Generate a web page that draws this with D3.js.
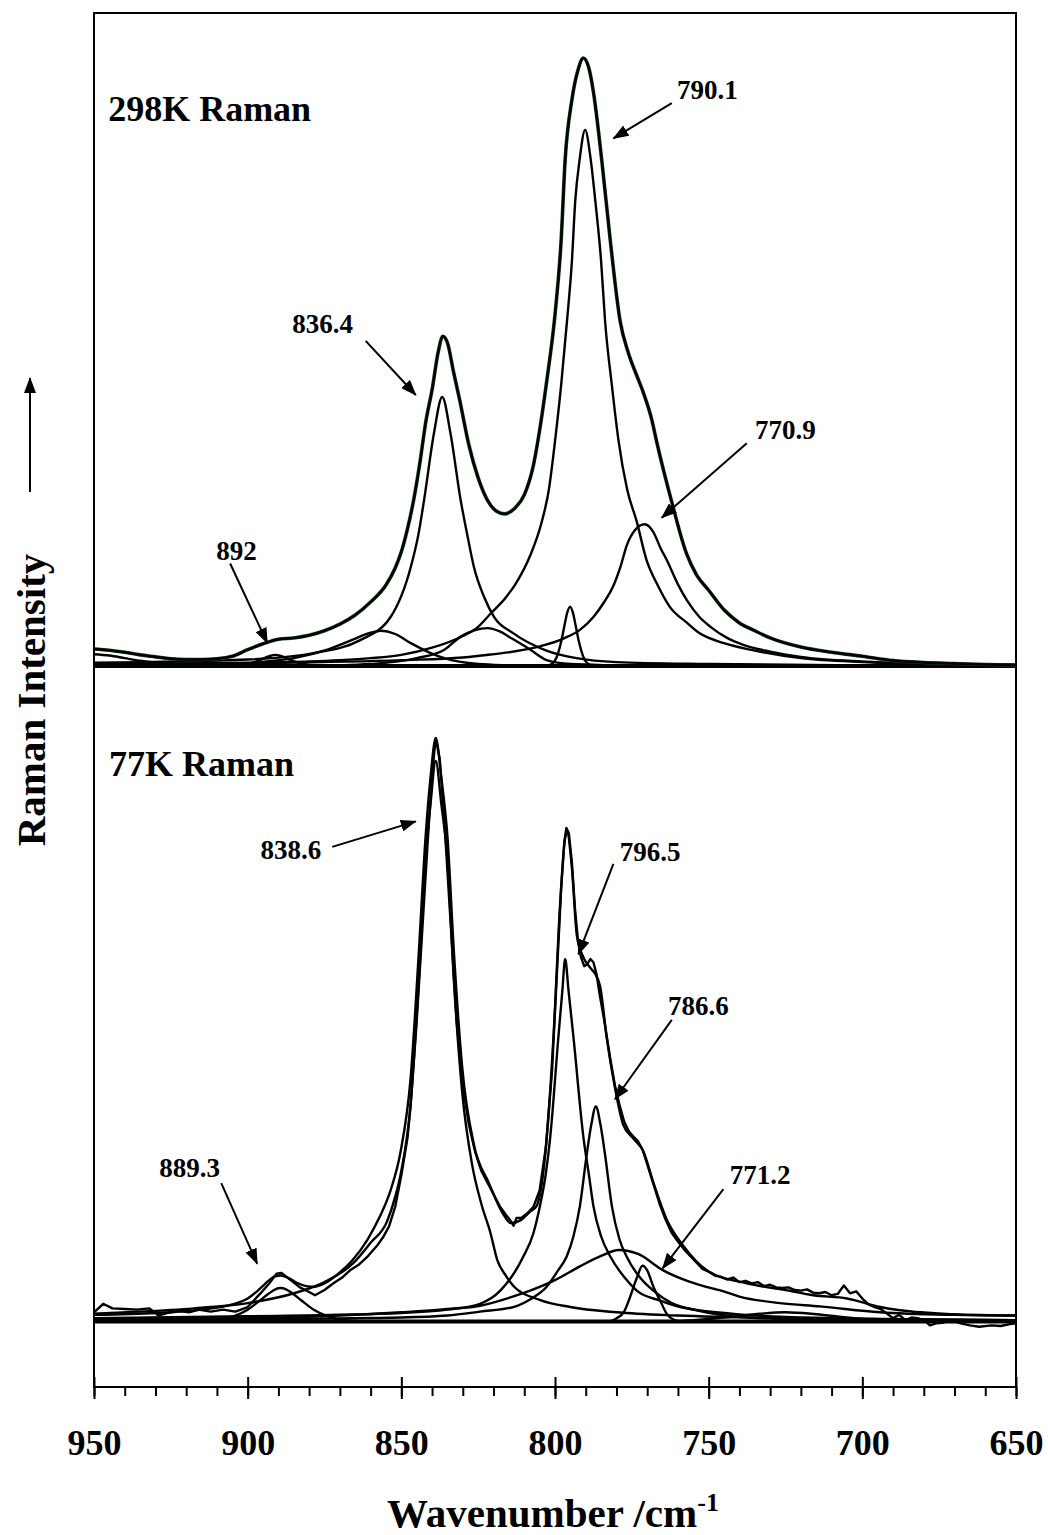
<!DOCTYPE html>
<html>
<head>
<meta charset="utf-8">
<script src="https://cdn.jsdelivr.net/npm/d3@7"></script>
<style>
  body { margin: 0; background: #fff; }
  text { font-family: 'Liberation Serif', 'Times New Roman', serif; font-weight: bold; fill: #000; }
</style>
</head>
<body>
<svg id="chart"></svg>
<script>
// wavenumber axis (cm-1), drawn high -> low
const wnDomain = [950, 650];
const majorTicks = [950, 900, 850, 800, 750, 700, 650];
const minorTicks = d3.range(950, 649, -10);

// ---- 298K panel: [wavenumber, intensity] ----
const top_fit = [[950,2.6],[945,2.4],[940,2.1],[935,1.7],[930,1.4],[925,1.1],[920,1.0],[915,1.0],[910,1.1],[905,1.5],[900,2.5],[895,3.4],[890,4.1],[885,4.3],[880,4.7],[875,5.4],[870,6.4],[865,7.8],[860,9.8],[855,12.4],[852,15.0],[850,17.5],[848,21.0],[846,25.4],[844,31.0],[842,37.5],[840,42.3],[838,48.1],[836.5,50.5],[835,49.5],[833,45.0],[831,40.7],[828,33.8],[825,28.8],[822,25.4],[819,23.7],[816.5,23.3],[813,24.2],[810,26.2],[807,30.8],[805,36.1],[802.7,43.6],[800,53.8],[798,65.2],[796.7,77.5],[794.5,86.7],[792.5,91.3],[790.8,93.1],[789,91.6],[787.5,87.9],[784.8,77.5],[782,65.1],[778.8,52.8],[776.1,47.9],[773.5,44.6],[771.2,41.8],[768.5,37.7],[766.9,34.3],[762,25.1],[757.2,17.2],[754,14.0],[750,11.6],[745,8.6],[740,6.6],[735,5.4],[730,4.3],[720,2.9],[710,2.1],[700,1.5],[690,0.84],[680,0.54],[670,0.38],[660,0.23],[650,0.15]];
const top_c790 = [[950,0.25],[920,0.4],[900,0.5],[880,0.7],[870,0.9],[860,1.2],[850,1.7],[840,2.8],[830,4.6],[825,6.0],[821,8.0],[816,10.5],[812.4,12.9],[808,17.0],[804.3,22.1],[802,27.0],[800,34.4],[798,43.0],[796.1,52.8],[794.5,62.0],[793.4,71.3],[792,77.5],[790.2,82.1],[788.5,78.0],[786.9,71.3],[785,62.0],[783.7,52.8],[781.5,43.0],[779.3,34.4],[776.5,27.0],[773.4,22.1],[770.2,16.2],[766.5,12.3],[762.7,9.1],[757,6.6],[752.9,5.0],[745,3.5],[736.5,2.5],[720,1.2],[700,0.6],[687.7,0.4],[650,0.15]];
const top_c836 = [[950,0.5],[900,1.0],[879.5,1.9],[863.2,4.0],[853.5,7.5],[846.9,15.2],[844.5,20.0],[842.6,25.4],[839.4,35.6],[836.7,41.2],[834,35.6],[830.7,25.4],[828.5,20.0],[826.4,15.2],[823,10.5],[819.8,7.5],[813.5,5.0],[803,2.4],[793,1.2],[780,0.6],[750,0.3],[700,0.1],[650,0.05]];
const top_c771 = [[950,0.15],[900,0.4],[850,0.9],[830,1.3],[824,1.6],[813.6,2.2],[805,3.0],[797.3,4.2],[792,5.5],[787.5,7.5],[784,9.8],[781,12.3],[778.5,15.5],[776.7,18.4],[774,20.8],[770.8,21.7],[768,20.5],[765.6,18.0],[763.6,16.2],[760,12.5],[757,10.0],[753,7.5],[749.4,6.0],[744,4.3],[738.5,3.2],[730,2.2],[720,1.4],[700,0.7],[680,0.4],[650,0.2]];
const top_c795 = [[803,0],[801,0.3],[799.5,1.3],[798,3.7],[797,6.0],[796,8.2],[795.1,9.1],[794.2,8.2],[793.2,6.0],[792.2,3.7],[790.7,1.3],[789.2,0.3],[787.5,0]];
const top_c822 = [[870,0.1],[860,0.3],[845,1.2],[836,2.5],[830.7,4.5],[826,5.5],[822,5.8],[818,5.3],[814,4.2],[808,2.5],[802.7,0.9],[795,0.3],[780,0.1],[770,0]];
const top_c857 = [[915,0],[905,0.2],[895.7,0.6],[884.9,1.2],[874.1,2.5],[866,4.0],[860,5.1],[856.7,5.4],[852,4.9],[846.9,3.5],[841,2.1],[836,1.2],[825,0.3],[815,0.1],[805,0]];
const top_c892 = [[906,0],[900,0.3],[896,0.9],[893,1.5],[891,1.7],[889,1.5],[886,0.9],[882,0.3],[876,0]];
const top_c950 = [[950,1.8],[945,1.6],[940,1.2],[935,0.8],[930,0.5],[920,0.2],[910,0.05],[900,0]];

// ---- 77K panel ----
const bot_obs = [[950,1.4],[947,2.7],[944,2.0],[940,1.9],[936,1.8],[932,2.0],[929,0.9],[926,1.3],[922,1.6],[919,1.4],[916,1.8],[912,1.5],[908,1.8],[904,1.5],[900,2.2],[896,4.2],[893,5.8],[890.6,7.3],[889,7.4],[886,6.3],[883,5.2],[880,4.5],[878.1,4.0],[875,4.8],[872.2,5.8],[869,6.8],[866.7,7.8],[864,8.6],[861.2,9.8],[858,11.5],[856,12.8],[854,14.5],[852,17.5],[850,22.3],[848,28.0],[847,32.9],[845,45.8],[843,61.1],[841,76.4],[839.5,85.8],[838.8,89.0],[837.5,85.8],[836,76.4],[834,61.1],[832,45.8],[830,35.8],[828,30.0],[826,25.9],[824,23.0],[822,21.2],[820,19.4],[818,17.6],[816,16.3],[814.5,15.4],[813.5,14.6],[812.5,15.8],[811,15.8],[809,16.5],[807,17.5],[805,20.0],[803,26.5],[801,38.0],[799.5,52.0],[798,66.0],[797,73.0],[796.3,75.3],[795.5,74.5],[794.5,70.0],[793.5,63.0],[792.5,58.0],[791.5,55.5],[790.5,54.2],[789.5,54.5],[788.5,55.3],[787.5,54.8],[786.5,53.0],[785.5,50.0],[784,46.0],[782,40.0],[780.5,36.0],[779,33.0],[777.5,30.5],[776,29.0],[774.5,28.2],[773,27.5],[771.5,26.2],[770,24.0],[768,21.0],[766,18.0],[764,15.5],[762,13.5],[760,12.2],[758,11.0],[756,10.0],[754,9.0],[752,8.0],[750,7.6],[748,7.0],[746,6.8],[744,6.4],[742,6.7],[740,6.0],[738,6.2],[736,5.8],[734,6.0],[732,5.4],[730,5.6],[728,5.2],[726,5.1],[724,5.2],[722,4.8],[720,4.7],[718,4.9],[716,4.4],[714,4.3],[712,4.5],[710,4.0],[708,4.2],[706,5.5],[704,4.3],[702,4.6],[700,3.5],[698,2.6],[696,2.2],[694,1.9],[692,1.2],[690,0.5],[688,1.0],[686,0.2],[684,0.6],[682,0.5],[680,0.2],[678,-0.6],[676,-0.3],[674,-0.2],[672,0.1],[670,0.0],[668,-0.3],[665,-0.6],[662,-0.8],[658,-0.6],[655,-0.7],[652,-0.4],[650,-0.3]];
const bot_fit = [[950,1.0],[930,1.3],[915,1.8],[905,2.6],[900,3.5],[896,5.0],[893,6.3],[891,6.9],[889.3,7.0],[887,6.7],[884,5.9],[881,5.4],[878.4,5.3],[875,5.8],[870,7.5],[866,9.3],[861,12.5],[857,16.0],[853.5,20.0],[850.2,26.0],[847,37.0],[844.3,56.4],[842.1,74.0],[840.5,83.0],[838.8,89.0],[837,83.0],[835,74.0],[832.9,56.4],[830.2,38.8],[826.4,27.0],[821.5,21.1],[817,16.5],[814.4,15.0],[811,15.5],[808,16.8],[806,17.6],[802.7,27.9],[800.5,43.4],[798.3,64.0],[796.7,73.8],[796.1,74.6],[794.5,69.2],[792.9,58.9],[790.7,55.5],[788.6,54.0],[786.9,53.0],[785.3,51.1],[783.2,43.4],[780.5,35.7],[777.8,30.0],[774.5,27.9],[771.2,25.9],[768,21.2],[763.7,15.6],[758.2,11.5],[750.6,7.8],[737.6,5.8],[725,4.8],[715.9,4.0],[705,3.5],[694.2,2.2],[687.7,1.7],[670,1.1],[650,0.9]];
const bot_c838 = [[950,1.2],[935,1.5],[917.5,2.0],[900,2.8],[884.9,4.3],[875,6.0],[865.4,9.0],[860,12.0],[854.6,15.3],[852,19.0],[850.2,22.5],[847,33.0],[844.3,52.0],[842.1,70.5],[840.5,79.0],[838.8,85.5],[837,79.0],[835,70.5],[832.9,52.0],[830.2,35.0],[827,24.0],[824,18.0],[821,13.5],[818.8,9.4],[816,7.0],[813.3,5.3],[805,3.3],[795,2.2],[780,1.4],[760,0.9],[720,0.5],[650,0.2]];
const bot_c889 = [[908,0.3],[904,0.9],[900,1.8],[896,3.2],[893,4.3],[891,4.9],[889.3,5.1],[887.5,4.9],[885.5,4.3],[882.5,3.2],[878.5,1.8],[874.5,0.9],[870,0.3],[862,0]];
const bot_c796 = [[950,0.5],[900,0.8],[850,1.3],[835,1.8],[824.4,2.7],[817.8,4.7],[810.3,9.9],[807,13.5],[804.9,17.6],[803,22.5],[801.6,27.9],[798.9,43.4],[797.6,50.5],[796.7,55.3],[795.6,50.5],[794,43.4],[790.7,27.9],[789,22.5],[787.5,17.6],[785,13.0],[782,9.9],[777,6.5],[773.4,4.7],[766,3.2],[759.3,2.2],[737.6,1.0],[710,0.5],[680,0.3],[650,0.2]];
const bot_c787 = [[950,0.2],[900,0.35],[850,0.6],[835,0.9],[824.4,1.5],[813.6,2.2],[808,3.4],[802.7,5.3],[799,7.8],[796.2,9.9],[794,13.0],[791.9,17.6],[789.7,25.4],[788.2,30.0],[786.7,32.8],[785.2,30.0],[783.7,25.4],[781.5,17.6],[779,12.5],[776.7,9.9],[772,6.5],[768,4.7],[762,2.8],[753.9,1.7],[737.6,0.6],[720,0.3],[650,0.1]];
const bot_c778 = [[950,0.3],[900,0.5],[870,0.9],[850,1.4],[835,1.9],[824.4,2.4],[815,3.6],[808.1,4.7],[800,6.3],[791.9,8.4],[785,10.0],[779.2,10.9],[773,10.3],[764.8,7.8],[757,6.2],[748.5,5.0],[745.9,4.7],[740,3.8],[726.8,2.8],[713.8,2.3],[694.2,1.4],[670,1.0],[650,0.9]];
const bot_c771 = [[782,0],[779.9,0.5],[777.5,1.5],[775.6,3.7],[773.5,6.5],[771.5,8.5],[770,7.8],[768,5.3],[765.6,3.0],[763.7,1.2],[761.5,0.3],[759,0]];
const bot_c720 = [[765,0],[755,0.2],[745,0.6],[735,1.1],[725,1.4],[715,1.1],[705,0.6],[695,0.2],[685,0]];
const zeroLine = [[950,0],[650,0]];

// peak labels: [text, wn, int] and arrows [wn1, int1, wn2, int2]
const top_labels = [
  { t: '790.1', at: [760.3, 86.8], arrow: [762.0, 86.2, 781.0, 80.8] },
  { t: '836.4', at: [885.5, 51.0], arrow: [861.6, 49.8, 845.3, 41.5] },
  { t: '770.9', at: [734.9, 34.7], arrow: [737.6, 34.1, 765.3, 22.7] },
  { t: '892',   at: [910.2, 16.2], arrow: [905.7, 15.7, 893.6, 3.5] }
];
const bot_labels = [
  { t: '838.6', at: [895.8, 70.5], arrow: [872.5, 72.4, 845.3, 76.3] },
  { t: '796.5', at: [778.9, 70.2], arrow: [781.0, 69.8, 792.4, 56.0] },
  { t: '786.6', at: [763.2, 46.8], arrow: [762.0, 46.0, 780.5, 33.9] },
  { t: '771.2', at: [743.1, 21.0], arrow: [745.2, 20.2, 765.0, 8.1] },
  { t: '889.3', at: [928.8, 22.0], arrow: [908.6, 21.1, 896.9, 8.8] }
];

const W = 1048, H = 1535;
const svg = d3.select('#chart').attr('width', W).attr('height', H);

svg.append('defs').append('marker')
  .attr('id', 'head')
  .attr('markerUnits', 'userSpaceOnUse')
  .attr('markerWidth', 16).attr('markerHeight', 12)
  .attr('refX', 15).attr('refY', 6)
  .attr('orient', 'auto')
  .append('path')
  .attr('d', 'M0,0 L16,6 L0,12 Z')
  .attr('fill', '#000');

const x = d3.scaleLinear().domain(wnDomain).range([94, 1016]);
const yTop = d3.scaleLinear().domain([0, 100]).range([666, 13]);
const yBot = d3.scaleLinear().domain([-10, 100]).range([1387, 666]);

const panels = [
  {
    y: yTop, title: '298K Raman', titleAt: [945.4, 83.5], labels: top_labels,
    comps: [top_c950, top_c892, top_c857, top_c822, top_c795, top_c771, top_c836, top_c790],
    fit: top_fit, obs: null
  },
  {
    y: yBot, title: '77K Raman', titleAt: [945.1, 83.2], labels: bot_labels,
    comps: [bot_c720, bot_c771, bot_c778, bot_c787, bot_c796, bot_c889, bot_c838],
    fit: bot_fit, obs: bot_obs
  }
];

const plot = svg.append('g');

panels.forEach(p => {
  const smooth = d3.line().x(d => x(d[0])).y(d => p.y(d[1])).curve(d3.curveMonotoneX);
  const raw = d3.line().x(d => x(d[0])).y(d => p.y(d[1]));
  const g = plot.append('g');

  g.append('path').datum(zeroLine)
    .attr('d', raw).attr('fill', 'none').attr('stroke', '#000').attr('stroke-width', 4);

  g.selectAll('.comp').data(p.comps).enter().append('path')
    .attr('class', 'comp')
    .attr('d', smooth)
    .attr('fill', 'none').attr('stroke', '#000').attr('stroke-width', 2.4);

  if (p.obs) {
    g.append('path').datum(p.obs)
      .attr('d', raw).attr('fill', 'none').attr('stroke', '#000')
      .attr('stroke-width', 2.4).attr('stroke-linejoin', 'round');
  } else {
    // measured trace sits right under the fit (dark green)
    g.append('path').datum(p.fit)
      .attr('d', smooth).attr('fill', 'none').attr('stroke', '#124a12').attr('stroke-width', 3.6);
  }
  g.append('path').datum(p.fit)
    .attr('d', smooth).attr('fill', 'none').attr('stroke', '#000').attr('stroke-width', 2.4);

  g.append('text')
    .attr('x', x(p.titleAt[0])).attr('y', p.y(p.titleAt[1]))
    .style('font-size', '36px')
    .text(p.title);

  const lab = g.selectAll('.peak').data(p.labels).enter().append('g').attr('class', 'peak');
  lab.append('text')
    .attr('x', d => x(d.at[0])).attr('y', d => p.y(d.at[1]))
    .style('font-size', '27px')
    .text(d => d.t);
  lab.append('line')
    .attr('x1', d => x(d.arrow[0])).attr('y1', d => p.y(d.arrow[1]))
    .attr('x2', d => x(d.arrow[2])).attr('y2', d => p.y(d.arrow[3]))
    .attr('stroke', '#000').attr('stroke-width', 2)
    .attr('marker-end', 'url(#head)');
});

// frame
svg.append('rect')
  .attr('x', 94).attr('y', 13).attr('width', 1016 - 94).attr('height', 1387 - 13)
  .attr('fill', 'none').attr('stroke', '#000').attr('stroke-width', 2);

// x axis: minor ticks, major ticks (crossing the axis) + labels
const axisY = 1387;
const minorAxis = d3.axisBottom(x).tickValues(minorTicks).tickSize(9).tickFormat('');
const majorAxis = d3.axisBottom(x).tickValues(majorTicks).tickSize(12).tickPadding(30).tickFormat(d3.format('d'));
const majorUp = d3.axisTop(x).tickValues(majorTicks).tickSize(10).tickFormat('');

[minorAxis, majorAxis, majorUp].forEach(a => {
  const ag = svg.append('g').attr('transform', `translate(0,${axisY})`).call(a);
  ag.select('.domain').remove();
  ag.selectAll('line').attr('stroke', '#000').attr('stroke-width', 2);
  ag.selectAll('text')
    .style('font-family', "'Liberation Serif', 'Times New Roman', serif")
    .style('font-weight', 'bold')
    .style('font-size', '36px')
    .attr('fill', '#000');
});

// axis titles
const xt = svg.append('text')
  .attr('x', 553).attr('y', 1527)
  .attr('text-anchor', 'middle')
  .style('font-size', '41px');
xt.append('tspan').text('Wavenumber /cm');
xt.append('tspan').attr('dy', -16).style('font-size', '26px').text('-1');

svg.append('text')
  .attr('transform', 'translate(45,700) rotate(-90)')
  .attr('text-anchor', 'middle')
  .style('font-size', '41px')
  .text('Raman Intensity');

svg.append('line')
  .attr('x1', 30).attr('y1', 492).attr('x2', 30).attr('y2', 378)
  .attr('stroke', '#000').attr('stroke-width', 2)
  .attr('marker-end', 'url(#head)');
</script>
</body>
</html>
